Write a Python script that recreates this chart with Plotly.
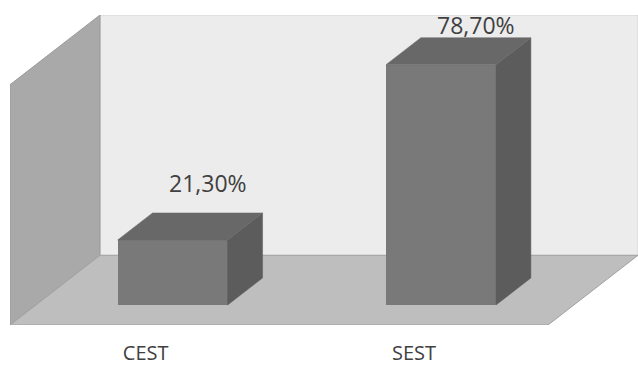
import plotly.graph_objects as go

# ---- data ----
categories = ["CEST", "SEST"]
values = [21.3, 78.7]
value_labels = ["21,30%", "78,70%"]

# ---- 3D-look geometry (style constants, data units) ----
BAR_HALF = 0.205          # half bar width (category units)
DEPTH_DX = 0.130          # x shift per bar depth
DEPTH_DY = 8.85           # y shift per bar depth
FLOOR_FRONT = -0.74       # depth of floor front edge (bar depth = 1)
FLOOR_BACK = 1.84         # depth of back wall
FLOOR_LEFT = -0.510
FLOOR_RIGHT = 1.495
WALL_TOP = max(values)
LABEL_GAP = 9.7
LABEL_CLAMP = 3.3

C_BACK = "#ececec"
C_LEFT = "#a9a9a9"
C_FLOOR = "#bebebe"
C_FRONT = "#797979"
C_TOP = "#686868"
C_SIDE = "#5c5c5c"
C_TEXT = "#404040"

x_pos = list(range(len(categories)))


def P(x, y, d):
    return (x + d * DEPTH_DX, y + d * DEPTH_DY)


def path(pts):
    return "M " + " L ".join(f"{x},{y}" for x, y in pts) + " Z"


X_RANGE = [FLOOR_LEFT + FLOOR_FRONT * DEPTH_DX, FLOOR_RIGHT + FLOOR_BACK * DEPTH_DX]
Y_RANGE = [FLOOR_FRONT * DEPTH_DY, WALL_TOP + FLOOR_BACK * DEPTH_DY]

L, R, F, B = FLOOR_LEFT, FLOOR_RIGHT, FLOOR_FRONT, FLOOR_BACK
shapes = [
    dict(type="path", xref="x", yref="y", layer="below",
         path=path([P(L, 0, B), P(R, 0, B), P(R, WALL_TOP, B), P(L, WALL_TOP, B)]),
         fillcolor=C_BACK, line=dict(color="#d4d4d4", width=1)),
    dict(type="path", xref="x", yref="y", layer="below",
         path=path([P(L, 0, F), P(L, 0, B), P(L, WALL_TOP, B), P(L, WALL_TOP, F)]),
         fillcolor=C_LEFT, line=dict(color="#9a9a9a", width=1)),
    dict(type="path", xref="x", yref="y", layer="below",
         path=path([P(L, 0, F), P(R, 0, F), P(R, 0, B), P(L, 0, B)]),
         fillcolor=C_FLOOR, line=dict(color="#a0a0a0", width=1)),
]

fig = go.Figure()

for i, v in zip(x_pos, values):
    top = [P(i - BAR_HALF, v, 0), P(i + BAR_HALF, v, 0), P(i + BAR_HALF, v, 1),
           P(i - BAR_HALF, v, 1), P(i - BAR_HALF, v, 0)]
    side = [P(i + BAR_HALF, 0, 0), P(i + BAR_HALF, 0, 1), P(i + BAR_HALF, v, 1),
            P(i + BAR_HALF, v, 0), P(i + BAR_HALF, 0, 0)]
    for pts, col in ((side, C_SIDE), (top, C_TOP)):
        fig.add_trace(go.Scatter(
            x=[p[0] for p in pts], y=[p[1] for p in pts], mode="lines",
            fill="toself", fillcolor=col, line=dict(width=0.5, color=col),
            hoverinfo="skip", showlegend=False))

fig.add_trace(go.Bar(
    x=x_pos, y=values, width=2 * BAR_HALF, marker=dict(color=C_FRONT, line=dict(width=0)),
    showlegend=False, hoverinfo="skip"))

annotations = []
for i, v, t in zip(x_pos, values, value_labels):
    ly = min(v + DEPTH_DY + LABEL_GAP, Y_RANGE[1] - LABEL_CLAMP)
    annotations.append(dict(x=i + DEPTH_DX, y=ly, xref="x", yref="y", text=t,
                            showarrow=False, yanchor="middle", xanchor="center",
                            font=dict(size=23, color=C_TEXT, family="Open Sans")))

fig.update_layout(
    width=638, height=367,
    margin=dict(l=10, r=0, t=15, b=42, autoexpand=False),
    paper_bgcolor="white", plot_bgcolor="white",
    shapes=shapes, annotations=annotations,
    xaxis=dict(range=X_RANGE, showgrid=False, zeroline=False, showline=False,
               tickvals=x_pos, ticktext=categories, ticks="",
               ticklabelshift=-27, ticklabelstandoff=14, automargin=False,
               tickfont=dict(size=20, color=C_TEXT, family="Open Sans"),
               fixedrange=True),
    yaxis=dict(range=Y_RANGE, visible=False, fixedrange=True, automargin=False),
    bargap=0,
)

fig.write_html("out.html", config={"displayModeBar": False},
               post_script="document.body.style.margin='0px';")
